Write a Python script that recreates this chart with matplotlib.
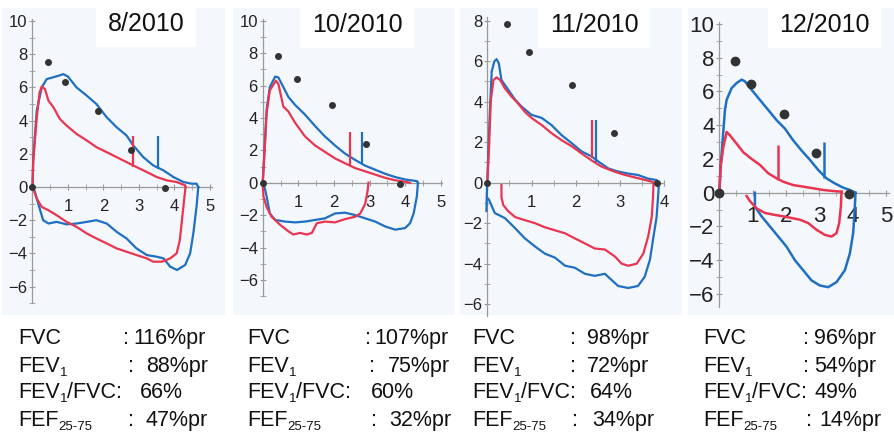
import numpy as np
import matplotlib.pyplot as plt
from matplotlib.ticker import FixedLocator

plt.rcParams['font.family'] = ['Liberation Sans', 'DejaVu Sans']

titles = ['8/2010', '10/2010', '11/2010', '12/2010']

# flow-volume loops, one entry per panel (volume L, flow L/s)
blue_exp_v = [
    [0, 0.02, 0.12, 0.26, 0.40, 0.73, 0.87, 1.00, 1.24, 1.53, 1.80, 2.09, 2.37, 2.65, 2.84, 3.12, 3.40, 3.69, 3.97, 4.25, 4.48, 4.62, 4.67],
    [0, 0.05, 0.11, 0.20, 0.35, 0.44, 0.58, 0.72, 0.91, 1.19, 1.47, 1.75, 2.03, 2.31, 2.60, 2.88, 3.16, 3.44, 3.72, 4.00, 4.33, 4.36],
    [-0.02, -0.01, 0, 0.02, 0.06, 0.10, 0.16, 0.21, 0.26, 0.32, 0.47, 0.63, 0.78, 1.00, 1.23, 1.45, 1.68, 1.91, 2.13, 2.36, 2.51, 2.74, 2.96, 3.19, 3.41, 3.64, 3.83, 3.88],
    [0, 0.04, 0.10, 0.17, 0.22, 0.37, 0.52, 0.67, 0.77, 0.97, 1.22, 1.47, 1.72, 1.97, 2.22, 2.47, 2.72, 2.97, 3.22, 3.47, 3.72, 3.92, 4.09],
]
blue_exp_f = [
    [0, 1.6, 4.6, 6.0, 6.5, 6.7, 6.8, 6.65, 6.0, 5.5, 5.0, 4.2, 3.6, 3.1, 2.5, 1.8, 1.3, 1.0, 0.6, 0.3, 0.2, 0.2, 0],
    [0, 2.0, 4.5, 5.9, 6.55, 6.5, 5.9, 5.3, 4.8, 4.2, 3.5, 2.85, 2.3, 1.8, 1.4, 1.05, 0.8, 0.55, 0.35, 0.2, 0.1, 0],
    [-1.4, -0.5, 0, 1.3, 3.6, 5.5, 6.0, 6.1, 5.9, 5.07, 4.6, 4.1, 3.75, 3.35, 3.2, 2.85, 2.35, 1.95, 1.55, 1.3, 1.05, 0.7, 0.55, 0.45, 0.38, 0.2, 0.13, 0],
    [0, 1.55, 3.1, 4.9, 5.5, 6.2, 6.5, 6.7, 6.6, 6.1, 5.5, 4.9, 4.3, 3.8, 3.1, 2.5, 1.95, 1.35, 0.85, 0.55, 0.3, 0.16, 0],
]
blue_insp_v = [
    [4.67, 4.62, 4.53, 4.44, 4.30, 4.07, 3.88, 3.69, 3.50, 3.22, 2.93, 2.65, 2.37, 2.09, 1.80, 1.53, 1.24, 0.96, 0.68, 0.45, 0.30, 0.16, 0.07, 0],
    [4.36, 4.33, 4.24, 4.14, 4.00, 3.72, 3.44, 3.16, 2.88, 2.60, 2.31, 2.03, 1.75, 1.47, 1.19, 0.91, 0.63, 0.35, 0.20, 0.11, 0.05, 0],
    [3.88, 3.87, 3.83, 3.75, 3.68, 3.56, 3.41, 3.19, 2.96, 2.81, 2.66, 2.43, 2.21, 1.98, 1.76, 1.53, 1.30, 1.08, 0.85, 0.63, 0.40, 0.17, 0.04, 0.0],
    [4.09, 4.07, 4.02, 3.92, 3.77, 3.52, 3.27, 3.02, 2.77, 2.52, 2.27, 2.02, 1.77, 1.52, 1.27, 1.07, 1.07],
]
blue_insp_f = [
    [0, -1.2, -2.8, -4.0, -4.7, -5.0, -4.8, -4.3, -4.2, -4.1, -3.7, -3.1, -2.7, -2.2, -2.0, -2.1, -2.2, -2.25, -2.1, -2.2, -2.0, -1.0, -0.3, 0],
    [0, -0.85, -1.9, -2.5, -2.8, -2.9, -2.7, -2.4, -2.2, -2.0, -1.85, -1.9, -2.2, -2.3, -2.4, -2.45, -2.4, -2.3, -1.9, -0.85, -0.25, 0],
    [0, -0.5, -1.7, -2.8, -3.8, -4.65, -5.1, -5.2, -5.1, -4.8, -4.5, -4.6, -4.5, -4.2, -4.1, -3.7, -3.5, -3.15, -2.75, -2.25, -1.75, -1.5, -0.85, -0.75],
    [0, -0.83, -2.4, -3.6, -4.6, -5.3, -5.6, -5.5, -5.2, -4.6, -4.0, -3.2, -2.6, -2.0, -1.4, -0.83, 0],
]
red_exp_v = [
    [0, 0.02, 0.12, 0.20, 0.26, 0.35, 0.45, 0.59, 0.77, 0.96, 1.24, 1.53, 1.80, 2.09, 2.37, 2.65, 2.93, 3.22, 3.50, 3.78, 4.06, 4.30, 4.31],
    [0, 0.05, 0.11, 0.20, 0.37, 0.44, 0.58, 0.72, 0.91, 1.19, 1.47, 1.75, 2.03, 2.31, 2.60, 2.88, 3.16, 3.44, 3.72, 4.00, 4.14],
    [0, 0.04, 0.08, 0.14, 0.21, 0.29, 0.40, 0.55, 0.70, 0.85, 1.00, 1.23, 1.45, 1.68, 1.91, 2.13, 2.36, 2.58, 2.81, 3.04, 3.26, 3.49, 3.72, 3.76],
    [0, 0.04, 0.12, 0.22, 0.32, 0.52, 0.72, 0.97, 1.22, 1.47, 1.72, 1.92, 2.22, 2.52, 2.82, 3.12, 3.42, 3.67],
]
red_exp_f = [
    [0, 1.6, 4.2, 5.7, 6.05, 5.9, 5.2, 4.8, 4.1, 3.7, 3.2, 2.8, 2.4, 2.1, 1.8, 1.5, 1.2, 0.9, 0.6, 0.4, 0.3, 0.1, 0],
    [0, 1.8, 4.3, 5.7, 6.3, 6.1, 4.7, 4.4, 3.7, 2.85, 2.3, 1.9, 1.5, 1.2, 0.9, 0.7, 0.5, 0.3, 0.15, 0.06, 0],
    [0, 1.8, 4.1, 5.07, 5.2, 5.07, 4.65, 4.25, 3.9, 3.5, 3.2, 2.85, 2.45, 2.1, 1.8, 1.45, 1.1, 0.8, 0.6, 0.43, 0.3, 0.18, 0.05, 0],
    [0, 1.55, 2.7, 3.6, 3.4, 2.9, 2.4, 2.0, 1.65, 1.15, 0.85, 0.65, 0.45, 0.36, 0.26, 0.16, 0.1, 0.06],
]
red_insp_v = [
    [4.31, 4.30, 4.23, 4.15, 4.06, 3.88, 3.64, 3.40, 3.22, 2.93, 2.65, 2.37, 2.09, 1.80, 1.53, 1.24, 0.96, 0.68, 0.45, 0.26, 0.12, 0.02, 0],
    [0, 0.02, 0.11, 0.25, 0.49, 0.72, 0.86, 1.05, 1.24, 1.38, 1.52, 1.75, 2.03, 2.31, 2.60, 2.74, 2.88, 2.95, 2.97],
    [3.76, 3.75, 3.72, 3.64, 3.53, 3.38, 3.19, 3.04, 2.89, 2.66, 2.43, 2.21, 1.98, 1.76, 1.53, 1.30, 1.08, 0.85, 0.63, 0.47, 0.36, 0.32, 0.32],
    [3.67, 3.65, 3.60, 3.52, 3.37, 3.17, 2.92, 2.67, 2.42, 2.17, 1.92, 1.62, 1.37, 1.12, 0.92, 0.82],
]
red_insp_f = [
    [0, -0.2, -1.6, -3.2, -4.0, -4.3, -4.5, -4.5, -4.3, -4.1, -3.9, -3.7, -3.4, -3.1, -2.8, -2.4, -2.1, -1.7, -1.4, -1.2, -0.7, -0.1, 0],
    [0, -0.85, -1.5, -2.1, -2.6, -3.0, -3.2, -3.1, -3.2, -3.1, -2.5, -2.4, -2.45, -2.25, -2.1, -1.9, -1.3, -0.45, 0],
    [0, -0.7, -1.7, -2.65, -3.5, -4.0, -4.1, -4.0, -3.65, -3.3, -3.25, -3.0, -2.75, -2.5, -2.35, -2.2, -2.0, -1.85, -1.7, -1.4, -1.1, -0.7, -0.12],
    [0.06, -0.83, -1.8, -2.4, -2.6, -2.5, -2.2, -1.8, -1.6, -1.5, -1.4, -1.3, -1.2, -0.93, -0.5, -0.2],
]

# FEV1 markers (volume, bottom, top)
red_mark_v = [2.82, 2.46, 2.36, 1.77]
red_mark_lo = [1.2, 1.1, 1.2, 0.75]
red_mark_hi = [3.1, 3.1, 3.1, 2.8]
blue_mark_v = [3.53, 2.80, 2.45, 3.15]
blue_mark_lo = [1.1, 1.2, 1.0, 0.85]
blue_mark_hi = [3.1, 3.1, 3.1, 3.0]

# predicted values (dots)
pred_v = [
    [0, 0.45, 0.92, 1.85, 2.77, 3.73],
    [0, 0.44, 0.95, 1.94, 2.90, 3.86],
    [0, 0.44, 0.94, 1.92, 2.87, 3.84],
    [0, 0.47, 0.95, 1.95, 2.90, 3.89],
]
pred_f = [
    [0, 7.5, 6.3, 4.6, 2.25, -0.05],
    [0, 7.8, 6.4, 4.8, 2.4, -0.05],
    [0, 7.85, 6.45, 4.8, 2.45, 0],
    [0, 7.8, 6.45, 4.65, 2.35, -0.1],
]

fvc = ['116%pr', '107%pr', '98%pr', '96%pr']
fev1 = ['88%pr', '75%pr', '72%pr', '54%pr']
ratio = ['66%', '60%', '64%', '49%']
fef = ['47%pr', '32%pr', '34%pr', '14%pr']

blue = '#1f6fc2'
red = '#ea3550'
W, H = 894, 438

fig = plt.figure(figsize=(W / 100, H / 100), dpi=100)

# panel layout in pixels
boxes = [(2, 225), (233, 455), (460, 682), (688, 894)]
top_px, bot_px = 8, 315
origins = [(32.5, 187.0), (262.7, 182.7), (487.3, 182.7), (719.3, 192.7)]
units = [(35.5, 16.6), (35.6, 16.2), (44.2, 20.25), (33.3, 16.87)]
yspan = [(-7, 10.1), (-7, 10.1), (-6.6, 8.2), (-6.8, 10.1)]
xspan = [(0, 5.05), (0, 5.05), (0, 3.97), (0, 5.1)]
ymax = [10, 10, 8, 10]
xmax = [5, 5, 4, 5]
tick_fs = [12, 12, 12, 16]
dot_ms = [4, 4, 4, 6]
lw = [1.6, 1.6, 1.6, 1.8]
title_pos = [(146, 24), (357, 25), (594, 25), (824, 25)]

for i in range(4):
    l, r = boxes[i]
    x0, y0 = origins[i]
    ux, uy = units[i]
    ax = fig.add_axes([l / W, 1 - bot_px / H, (r - l) / W, (bot_px - top_px) / H])
    ax.set_xlim((l - x0) / ux, (r - x0) / ux)
    ax.set_ylim((y0 - bot_px) / uy, (y0 - top_px) / uy)
    ax.set_facecolor('#f4f7fb')
    ax.spines['top'].set_visible(False)
    ax.spines['right'].set_visible(False)
    ax.spines['left'].set_position(('data', 0))
    ax.spines['bottom'].set_position(('data', 0))
    ax.spines['left'].set_bounds(*yspan[i])
    ax.spines['bottom'].set_bounds(*xspan[i])
    for s in ['left', 'bottom']:
        ax.spines[s].set_color('#9a9a9a')
        ax.spines[s].set_linewidth(0.9)

    ax.xaxis.set_major_locator(FixedLocator(list(range(1, xmax[i] + 1))))
    ax.xaxis.set_minor_locator(FixedLocator(list(np.arange(0.5, xspan[i][1], 0.5))))
    ax.yaxis.set_major_locator(FixedLocator(list(range(-6, ymax[i] + 1, 2))))
    ax.yaxis.set_minor_locator(FixedLocator(list(range(int(yspan[i][0]), ymax[i] + 1))))
    ax.tick_params(axis='both', which='both', color='#9a9a9a', direction='inout', labelcolor='#222222',
                   labelsize=tick_fs[i])
    ax.tick_params(axis='both', which='major', length=5)
    ax.tick_params(axis='both', which='minor', length=4)
    ax.tick_params(axis='x', pad=6 if i < 3 else 7)
    ax.tick_params(axis='y', pad=1)

    ax.plot(blue_exp_v[i], blue_exp_f[i], color=blue, lw=lw[i], zorder=3)
    ax.plot(blue_insp_v[i], blue_insp_f[i], color=blue, lw=lw[i], zorder=3)
    ax.plot(red_exp_v[i], red_exp_f[i], color=red, lw=lw[i], zorder=4)
    ax.plot(red_insp_v[i], red_insp_f[i], color=red, lw=lw[i], zorder=4)
    ax.vlines(red_mark_v[i], red_mark_lo[i], red_mark_hi[i], color=red, lw=lw[i], zorder=4)
    ax.vlines(blue_mark_v[i], blue_mark_lo[i], blue_mark_hi[i], color=blue, lw=lw[i], zorder=4)
    ax.plot(pred_v[i], pred_f[i], 'o', color='#333333', ms=dot_ms[i], zorder=5)

    cx, cy = title_pos[i]
    fig.text(cx / W, 1 - cy / H, titles[i], ha='center', va='center', fontsize=18, color='#111111',
             bbox=dict(facecolor='white', edgecolor='none', boxstyle='square,pad=0.45'))

# table of results under each panel
fs = 15.5
sub_fs = 9.5
renderer = fig.canvas.get_renderer()


def put_parts(x, y, parts):
    # write text pieces one after another, subscripts smaller and lower
    for s, sub in parts:
        t = fig.text(x / W, 1 - (y + (4 if sub else 0)) / H, s, fontsize=sub_fs if sub else fs,
                     va='baseline', color='#111111')
        x += t.get_window_extent(renderer).width
    return x


label_x = [18, 247, 472, 703]
rows_y = [344, 372, 398, 426]
labels = [
    [('FVC', False)],
    [('FEV', False), ('1', True)],
    [('FEV', False), ('1', True), ('/FVC:', False)],
    [('FEF', False), ('25-75', True)],
]
colon_x = [[123, 365, 570, 803], [128, 369, 570, 803], None, [128, 371, 572, 806]]
value_x = [[133, 374, 587, 814], [146, 388, 587, 814], None, [146, 389, 592, 819]]
ratio_gap = [18, 20, 14, 7]
values = [fvc, fev1, ratio, fef]

for i in range(4):
    for k in range(4):
        end = put_parts(label_x[i], rows_y[k], labels[k])
        if colon_x[k] is not None:
            put_parts(colon_x[k][i], rows_y[k], [(':', False)])
        if value_x[k] is None:
            vx = end + ratio_gap[i]
        else:
            vx = value_x[k][i]
        put_parts(vx, rows_y[k], [(values[k][i], False)])

fig.savefig('out.png', dpi=100)
